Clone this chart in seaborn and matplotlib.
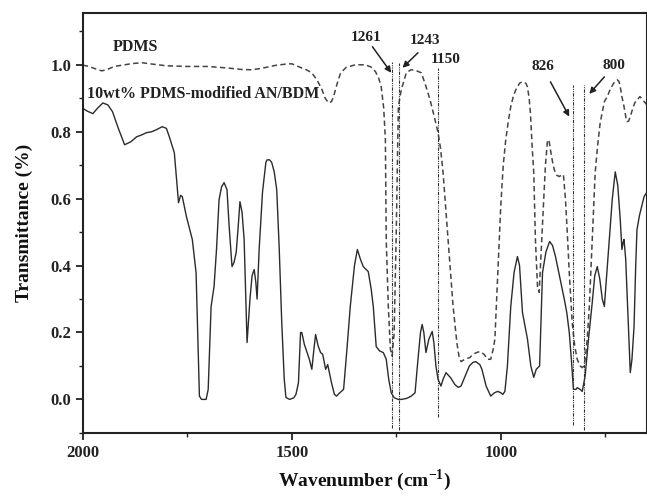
import numpy as np
import pandas as pd
import matplotlib
matplotlib.use("Agg")
import matplotlib.pyplot as plt
import seaborn as sns

# FTIR spectrum of the 10wt% PDMS-modified AN/BDM resin (wavenumber, transmittance)
blend_wn = [2000, 1990, 1976, 1965, 1952, 1940, 1929, 1915, 1900, 1885, 1871, 1860,
            1848, 1835, 1824, 1810, 1800, 1793, 1781, 1771, 1766, 1762, 1752, 1738,
            1729, 1724, 1721, 1716, 1705, 1700, 1693, 1686, 1680, 1674, 1668, 1662,
            1655, 1650, 1643, 1638, 1633, 1628, 1624, 1619, 1614, 1610, 1607, 1600,
            1595, 1590, 1586, 1583, 1578, 1570, 1562, 1559, 1553, 1548, 1542, 1536,
            1530, 1524, 1518, 1514, 1505, 1495, 1490, 1484, 1479, 1476, 1470, 1464,
            1458, 1452, 1447, 1443, 1437, 1431, 1426, 1419, 1414, 1410, 1405, 1398,
            1393, 1385, 1376, 1368, 1360, 1350, 1343, 1336, 1329, 1317, 1310, 1305,
            1298, 1290, 1281, 1274, 1268, 1262, 1255, 1245, 1238, 1225, 1214, 1205,
            1198, 1192, 1188, 1184, 1179, 1172, 1164, 1160, 1155, 1150, 1143, 1138,
            1131, 1120, 1110, 1102, 1095, 1085, 1075, 1067, 1060, 1050, 1045, 1035,
            1024, 1015, 1007, 1000, 995, 990, 984, 976, 968, 960, 955, 948,
            942, 936, 928, 921, 915, 907, 900, 892, 883, 876, 869, 858,
            848, 842, 836, 831, 826, 820, 817, 810, 805, 798, 790, 781,
            775, 769, 763, 757, 752, 746, 740, 733, 726, 720, 714, 710,
            707, 705, 701, 698, 694, 690, 686, 681, 677, 674, 668, 662,
            657, 650]
blend_t = [0.870, 0.862, 0.854, 0.870, 0.886, 0.880, 0.860, 0.810, 0.761, 0.770, 0.785, 0.790,
           0.797, 0.800, 0.806, 0.815, 0.810, 0.785, 0.737, 0.588, 0.610, 0.606, 0.546, 0.478,
           0.379, 0.150, 0.010, 0.000, 0.000, 0.030, 0.278, 0.337, 0.450, 0.597, 0.635, 0.648,
           0.627, 0.520, 0.397, 0.410, 0.439, 0.520, 0.591, 0.560, 0.478, 0.300, 0.170, 0.300,
           0.370, 0.388, 0.350, 0.300, 0.450, 0.620, 0.708, 0.716, 0.716, 0.708, 0.680, 0.627,
           0.450, 0.230, 0.060, 0.006, 0.000, 0.005, 0.015, 0.050, 0.200, 0.200, 0.165, 0.143,
           0.120, 0.090, 0.150, 0.194, 0.160, 0.140, 0.135, 0.090, 0.104, 0.080, 0.050, 0.015,
           0.010, 0.020, 0.030, 0.150, 0.278, 0.400, 0.448, 0.420, 0.397, 0.382, 0.330, 0.278,
           0.158, 0.145, 0.140, 0.120, 0.060, 0.020, 0.005, 0.000, 0.000, 0.003, 0.010, 0.020,
           0.120, 0.200, 0.224, 0.200, 0.140, 0.180, 0.203, 0.170, 0.099, 0.060, 0.040, 0.060,
           0.080, 0.065, 0.045, 0.036, 0.040, 0.070, 0.100, 0.110, 0.113, 0.104, 0.090, 0.040,
           0.010, 0.020, 0.024, 0.020, 0.015, 0.024, 0.100, 0.278, 0.380, 0.427, 0.400, 0.260,
           0.220, 0.180, 0.100, 0.066, 0.090, 0.100, 0.379, 0.440, 0.472, 0.460, 0.427, 0.360,
           0.300, 0.260, 0.200, 0.120, 0.030, 0.030, 0.035, 0.030, 0.024, 0.070, 0.180, 0.290,
           0.370, 0.397, 0.360, 0.300, 0.278, 0.380, 0.478, 0.600, 0.680, 0.640, 0.537, 0.448,
           0.470, 0.478, 0.420, 0.328, 0.200, 0.080, 0.120, 0.218, 0.400, 0.507, 0.550, 0.580,
           0.606, 0.620]

# FTIR spectrum of neat PDMS
pdms_wn = [2000, 1985, 1970, 1955, 1943, 1925, 1900, 1880, 1857, 1840, 1800, 1750,
           1700, 1650, 1620, 1595, 1570, 1540, 1515, 1500, 1483, 1465, 1452, 1440,
           1429, 1420, 1412, 1405, 1400, 1390, 1383, 1370, 1348, 1324, 1310, 1300,
           1292, 1286, 1280, 1276, 1274, 1269, 1264, 1260, 1255, 1250, 1245, 1238,
           1226, 1215, 1205, 1190, 1180, 1169, 1160, 1150, 1144, 1138, 1126, 1114,
           1105, 1100, 1095, 1086, 1074, 1067, 1058, 1050, 1040, 1031, 1024, 1018,
           1014, 1007, 1000, 994, 988, 982, 976, 970, 964, 955, 948, 940,
           936, 932, 929, 925, 921, 917, 912, 908, 903, 898, 893, 888,
           884, 881, 876, 872, 866, 860, 855, 850, 845, 840, 836, 829,
           823, 817, 810, 805, 801, 798, 793, 788, 781, 774, 768, 762,
           752, 745, 737, 729, 721, 717, 714, 710, 705, 700, 698, 694,
           690, 684, 679, 667, 657, 650]
pdms_t = [0.999, 0.995, 0.988, 0.982, 0.985, 0.995, 1.000, 1.004, 1.006, 1.003, 0.997, 0.995,
          0.995, 0.990, 0.986, 0.985, 0.990, 0.998, 1.002, 1.003, 0.994, 0.985, 0.976, 0.955,
          0.930, 0.900, 0.886, 0.890, 0.905, 0.950, 0.976, 0.992, 1.000, 1.000, 0.993, 0.980,
          0.960, 0.934, 0.870, 0.776, 0.478, 0.278, 0.150, 0.130, 0.200, 0.500, 0.875, 0.925,
          0.976, 0.985, 0.984, 0.976, 0.940, 0.895, 0.850, 0.797, 0.750, 0.678, 0.478, 0.278,
          0.170, 0.130, 0.113, 0.120, 0.125, 0.134, 0.140, 0.143, 0.135, 0.120, 0.120, 0.150,
          0.180, 0.379, 0.576, 0.700, 0.776, 0.830, 0.875, 0.905, 0.925, 0.945, 0.949, 0.945,
          0.934, 0.900, 0.857, 0.760, 0.678, 0.478, 0.337, 0.320, 0.450, 0.576, 0.700, 0.776,
          0.770, 0.746, 0.710, 0.687, 0.670, 0.666, 0.670, 0.672, 0.597, 0.480, 0.379, 0.230,
          0.160, 0.120, 0.100, 0.095, 0.100, 0.120, 0.180, 0.278, 0.478, 0.678, 0.760, 0.827,
          0.890, 0.905, 0.930, 0.946, 0.955, 0.950, 0.934, 0.905, 0.875, 0.840, 0.830, 0.832,
          0.845, 0.870, 0.887, 0.905, 0.890, 0.880]

# Marked band positions
band_pos = [1261, 1243, 1150, 826, 800]
band_labels = ["1261", "1243", "1150", "826", "800"]
band_top = [1.009, 1.006, 0.99, 0.94, 0.94]
band_bottom = [-0.084, -0.09, -0.054, -0.075, -0.09]

sns.set_style("ticks")
plt.rcParams["font.family"] = ["Liberation Serif", "DejaVu Serif"]
plt.rcParams["font.weight"] = "bold"
plt.rcParams["mathtext.fontset"] = "custom"
plt.rcParams["mathtext.rm"] = "Liberation Serif:bold"
plt.rcParams["mathtext.bf"] = "Liberation Serif:bold"

fig = plt.figure(figsize=(6.47, 4.97), dpi=100)
ax = fig.add_axes([0.128, 0.129, 0.872, 0.845])

line_col = "#2b2b2b"
df_blend = pd.DataFrame({"wn": blend_wn, "t": blend_t})
df_pdms = pd.DataFrame({"wn": pdms_wn, "t": pdms_t})

sns.lineplot(data=df_pdms, x="wn", y="t", sort=False, estimator=None, ax=ax,
             color="#444444", lw=1.1, linestyle=(0, (3.5, 2.2)))
sns.lineplot(data=df_blend, x="wn", y="t", sort=False, estimator=None, ax=ax,
             color=line_col, lw=1.0)

for pos, top, bot in zip(band_pos, band_top, band_bottom):
    ax.plot([pos, pos], [bot, top], color="#333333", lw=0.8,
            linestyle=(0, (3, 1, 1, 1, 1, 1)))

ax.set_xlim(2000, 650)
ax.set_ylim(-0.1, 1.155)
ax.set_xticks([2000, 1500, 1000])
ax.set_xticks([1750, 1250, 750], minor=True)
ax.set_yticks([0.0, 0.2, 0.4, 0.6, 0.8, 1.0])
ax.set_yticks([-0.1, 0.1, 0.3, 0.5, 0.7, 0.9, 1.1], minor=True)
ax.set_yticklabels(["0.0", "0.2", "0.4", "0.6", "0.8", "1.0"])
ax.tick_params(axis="both", which="major", direction="out", length=5, width=1.3,
               labelsize=12, colors="#222222")
ax.tick_params(axis="both", which="minor", direction="out", length=3, width=1.0,
               colors="#222222")
for lab in ax.get_xticklabels() + ax.get_yticklabels():
    lab.set_fontweight("bold")
for side in ["left", "bottom", "top", "right"]:
    ax.spines[side].set_linewidth(1.5)
    ax.spines[side].set_color("#222222")

ax.set_xlabel(r"Wavenumber (cm$^{\mathbf{-1}}$)", fontsize=14, fontweight="bold",
              labelpad=5, color="#111111")
ax.set_ylabel("Transmittance (%)", fontsize=14, fontweight="bold", labelpad=12,
              color="#111111")

ax.text(1874, 1.054, "PDMS", fontsize=11.5, fontweight="bold", ha="center",
        va="center", color="#222222")
ax.text(1990, 0.913, "10wt% PDMS-modified AN/BDM", fontsize=11.5, fontweight="bold",
        ha="left", va="center", color="#222222")

label_xy = [(1321, 1.081), (1181, 1.072), (1131, 1.015), (900, 0.994), (729, 0.997)]
for txt, (lx, ly) in zip(band_labels, label_xy):
    ax.text(lx, ly, txt, fontsize=11, fontweight="bold", ha="center", va="center",
            color="#222222")

arrows = [((1307, 1.054), (1262, 0.976)),
          ((1198, 1.036), (1235, 0.991)),
          ((881, 0.949), (836, 0.845)),
          ((752, 0.964), (788, 0.913))]
for start, end in arrows:
    ax.annotate("", xy=end, xytext=start,
                arrowprops=dict(arrowstyle="-|>", color="#222222", lw=1.1,
                                mutation_scale=9, shrinkA=0, shrinkB=0))

fig.savefig("out.png", dpi=100)
